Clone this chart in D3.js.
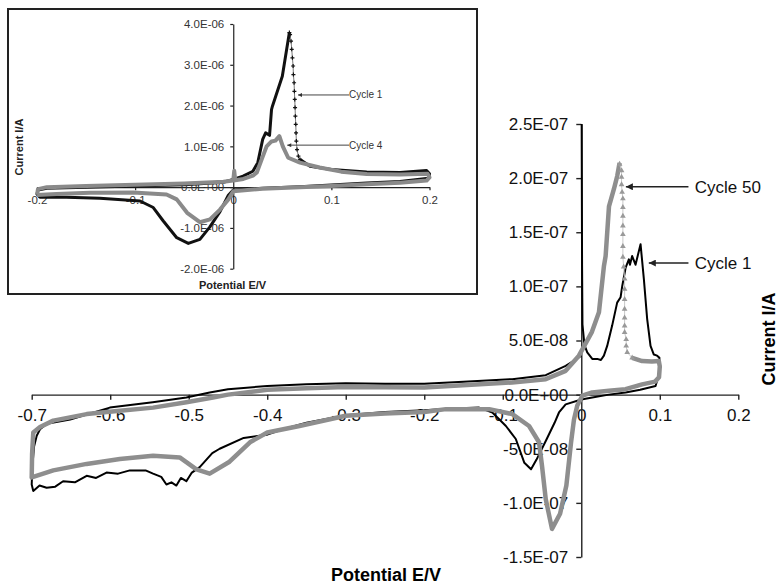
<!DOCTYPE html>
<html>
<head>
<meta charset="utf-8">
<script src="https://cdn.jsdelivr.net/npm/d3@7"></script>
<style>
  body { margin: 0; background: #fff; }
  svg { display: block; font-family: "Liberation Sans", Arial, sans-serif; }
</style>
</head>
<body>
<svg id="chart" width="780" height="586"></svg>
<script>
// ---- main plot: potential E (V) vs current I (A) ----
const mainXTicks = [-0.7, -0.6, -0.5, -0.4, -0.3, -0.2, -0.1, 0, 0.1, 0.2];
const mainYTicks = [-1.5e-7, -1e-7, -5e-8, 0, 5e-8, 1e-7, 1.5e-7, 2e-7, 2.5e-7];

// cycle 1 (black)
const cycle1 = [
  [0.0005, 2.5e-7], [0.001, 1.2e-7], [0.0015, 6.5e-8], [0.004, 4.6e-8], [0.0076, 3.9e-8],
  [0.014, 3.3e-8], [0.0203, 3.3e-8], [0.025, 3.2e-8], [0.0288, 3.6e-8], [0.033, 4.5e-8],
  [0.0394, 6.4e-8], [0.0457, 8.5e-8], [0.0501, 9.0e-8], [0.0521, 1.0e-7], [0.0564, 1.17e-7],
  [0.0606, 1.25e-7], [0.062, 1.2e-7], [0.0648, 1.28e-7], [0.0691, 1.2e-7], [0.0755, 1.39e-7],
  [0.0797, 1.07e-7], [0.0839, 7.0e-8], [0.0882, 4.5e-8], [0.0924, 3.7e-8], [0.0966, 3.6e-8],
  [0.0995, 3.4e-8], [0.0995, 2.2e-8], [0.097, 1.4e-8], [0.0946, 0.8e-8], [0.075, 0.45e-8],
  [0.0564, 0.2e-8], [0.035, 0], [0.014, -0.26e-8], [0, -0.45e-8], [-0.0199, -0.9e-8],
  [-0.0284, -1.65e-8], [-0.034, -2.6e-8], [-0.044, -4.1e-8], [-0.057, -6.0e-8], [-0.064, -6.9e-8],
  [-0.0725, -6.3e-8], [-0.0834, -4.1e-8], [-0.096, -2.9e-8], [-0.1132, -1.65e-8], [-0.1301, -1.2e-8],
  [-0.17, -1.3e-8], [-0.2, -1.45e-8], [-0.25, -1.6e-8], [-0.3, -1.9e-8], [-0.35, -2.6e-8],
  [-0.38, -3.2e-8], [-0.4, -3.7e-8], [-0.43, -4.0e-8], [-0.4606, -5.0e-8], [-0.47, -5.4e-8],
  [-0.486, -6.7e-8], [-0.496, -7.2e-8], [-0.503, -8.0e-8], [-0.51, -7.7e-8], [-0.5157, -8.4e-8],
  [-0.522, -8.1e-8], [-0.5284, -8.3e-8], [-0.535, -7.6e-8], [-0.5454, -7.3e-8], [-0.555, -7.0e-8],
  [-0.575, -7.0e-8], [-0.59, -7.3e-8], [-0.6047, -7.2e-8], [-0.618, -7.7e-8], [-0.63, -7.5e-8],
  [-0.645, -8.1e-8], [-0.66, -8.0e-8], [-0.67, -8.5e-8], [-0.681, -8.6e-8], [-0.69, -8.4e-8],
  [-0.698, -8.9e-8], [-0.7, -8.3e-8], [-0.699, -6.5e-8], [-0.697, -4.8e-8], [-0.6936, -3.8e-8],
  [-0.6894, -3.2e-8], [-0.681, -2.7e-8], [-0.651, -2.3e-8], [-0.6005, -1.2e-8], [-0.5458, -0.7e-8],
  [-0.503, -0.26e-8], [-0.4733, 0.2e-8], [-0.45, 0.5e-8], [-0.4, 0.8e-8], [-0.35, 0.95e-8],
  [-0.3, 1.05e-8], [-0.25, 1.0e-8], [-0.2, 1.0e-8], [-0.15, 1.2e-8], [-0.088, 1.43e-8],
  [-0.0453, 1.8e-8], [-0.0199, 2.66e-8], [-0.008, 3.2e-8], [0, 3.6e-8]
];

// cycle 50 (grey triangles) - dense part of the loop
const cycle50Loop = [
  [0.0648, 3.4e-8], [0.0775, 3.1e-8], [0.09, 3.05e-8], [0.0988, 3.1e-8], [0.1, 2.6e-8],
  [0.099, 1.6e-8], [0.094, 1.2e-8], [0.0775, 0.95e-8], [0.0564, 0.5e-8], [0.0352, 0.35e-8],
  [0.014, 0.2e-8], [0.0013, -0.1e-8], [-0.0051, -1.0e-8], [-0.0093, -2.3e-8], [-0.013, -4.4e-8],
  [-0.019, -8.4e-8], [-0.027, -1.1e-7], [-0.0373, -1.24e-7], [-0.0453, -9.65e-8], [-0.05, -6.6e-8],
  [-0.0538, -4.4e-8], [-0.0665, -2.9e-8], [-0.0878, -1.8e-8], [-0.1173, -1.34e-8], [-0.1724, -1.34e-8],
  [-0.2, -1.6e-8], [-0.25, -1.75e-8], [-0.3, -1.95e-8], [-0.359, -2.9e-8], [-0.4, -3.5e-8],
  [-0.422, -4.4e-8], [-0.448, -6.2e-8], [-0.4733, -7.3e-8], [-0.4902, -6.9e-8], [-0.5115, -5.8e-8],
  [-0.5454, -5.65e-8], [-0.5877, -5.95e-8], [-0.63, -6.4e-8], [-0.6725, -7.0e-8], [-0.7, -7.65e-8],
  [-0.6995, -5.5e-8], [-0.698, -3.5e-8], [-0.6894, -3.0e-8], [-0.6725, -2.4e-8], [-0.63, -1.8e-8],
  [-0.5877, -1.5e-8], [-0.5454, -1.2e-8], [-0.503, -0.7e-8], [-0.4691, -0.26e-8], [-0.45, 0],
  [-0.4, 0.45e-8], [-0.35, 0.6e-8], [-0.3, 0.7e-8], [-0.2, 0.66e-8], [-0.088, 1.13e-8],
  [-0.0453, 1.43e-8], [-0.0199, 2.2e-8], [-0.003, 3.6e-8], [0.0136, 5.8e-8], [0.0225, 7.6e-8],
  [0.0289, 1.19e-7], [0.031, 1.28e-7], [0.0353, 1.74e-7], [0.0416, 1.9e-7], [0.0458, 2.02e-7],
  [0.0488, 2.14e-7]
];
// cycle 50 - sparse falling edge after the anodic peak
const cycle50Drop = [
  [0.0488, 2.13e-7], [0.0513, 2.07e-7], [0.0513, 2.01e-7], [0.0513, 1.94e-7], [0.052, 1.87e-7],
  [0.053, 1.81e-7], [0.053, 1.73e-7], [0.053, 1.65e-7], [0.053, 1.56e-7], [0.053, 1.48e-7],
  [0.053, 1.37e-7], [0.053, 1.27e-7], [0.054, 1.18e-7], [0.0552, 1.07e-7], [0.0552, 9.75e-8],
  [0.0552, 8.8e-8], [0.0552, 7.9e-8], [0.0552, 7.1e-8], [0.0552, 6.35e-8], [0.0552, 5.75e-8],
  [0.0572, 5.1e-8], [0.0572, 4.5e-8], [0.0585, 3.9e-8], [0.0648, 3.4e-8]
];

// ---- inset plot ----
const insetXTicks = [-0.2, -0.1, 0, 0.1, 0.2];
const insetYTicks = [-2e-6, -1e-6, 0, 1e-6, 2e-6, 3e-6, 4e-6];

const insetCycle1Loop = [
  [0.0681, 0.68e-6], [0.0783, 0.51e-6], [0.1, 0.43e-6], [0.136, 0.37e-6], [0.17, 0.36e-6],
  [0.197, 0.41e-6], [0.2, 0.33e-6], [0.199, 0.22e-6], [0.17, 0.14e-6], [0.136, 0.1e-6],
  [0.1, 0.05e-6], [0.068, 0.01e-6], [0.03, -0.03e-6], [0, -0.07e-6], [-0.005, -0.2e-6],
  [-0.0135, -0.6e-6], [-0.024, -0.98e-6], [-0.034, -1.28e-6], [-0.0458, -1.38e-6], [-0.0576, -1.24e-6],
  [-0.0713, -0.83e-6], [-0.0815, -0.5e-6], [-0.095, -0.34e-6], [-0.136, -0.27e-6], [-0.17, -0.25e-6],
  [-0.197, -0.25e-6], [-0.2, -0.17e-6], [-0.199, -0.07e-6], [-0.19, -0.03e-6], [-0.15, 0.0],
  [-0.1, 0.03e-6], [-0.05, 0.06e-6], [-0.01, 0.12e-6], [0, 0.19e-6], [0.01, 0.27e-6],
  [0.02, 0.39e-6], [0.025, 0.6e-6], [0.03, 1.17e-6], [0.033, 1.33e-6], [0.037, 1.27e-6],
  [0.039, 1.9e-6], [0.04, 1.99e-6], [0.05, 2.72e-6], [0.0572, 3.79e-6]
];
const insetCycle1Drop = [
  [0.0572, 3.79e-6], [0.0579, 3.74e-6], [0.0589, 3.58e-6], [0.0596, 3.38e-6], [0.0603, 3.17e-6],
  [0.061, 2.97e-6], [0.0613, 2.76e-6], [0.062, 2.56e-6], [0.0623, 2.35e-6], [0.0627, 2.15e-6],
  [0.063, 1.95e-6], [0.0633, 1.74e-6], [0.0637, 1.54e-6], [0.064, 1.33e-6], [0.0643, 1.13e-6],
  [0.065, 0.92e-6], [0.0664, 0.76e-6], [0.0681, 0.68e-6]
];
const insetCycle4 = [
  [-0.2, -0.19e-6], [-0.199, -0.05e-6], [-0.19, 0.0], [-0.15, 0.03e-6], [-0.1, 0.06e-6],
  [-0.05, 0.09e-6], [-0.01, 0.13e-6], [0, 0.16e-6], [0.001, 0.4e-6], [0.002, 0.17e-6],
  [0.0103, 0.2e-6], [0.02, 0.28e-6], [0.024, 0.36e-6], [0.029, 0.68e-6], [0.034, 1.0e-6],
  [0.039, 1.12e-6], [0.043, 1.14e-6], [0.047, 1.25e-6], [0.0505, 1.0e-6], [0.056, 0.72e-6],
  [0.068, 0.6e-6], [0.088, 0.48e-6], [0.11, 0.38e-6], [0.136, 0.32e-6], [0.17, 0.31e-6],
  [0.198, 0.33e-6], [0.2, 0.24e-6], [0.197, 0.16e-6], [0.17, 0.11e-6], [0.136, 0.07e-6],
  [0.1, 0.03e-6], [0.068, 0.0], [0.03, -0.04e-6], [0, -0.1e-6], [-0.005, -0.3e-6],
  [-0.0135, -0.55e-6], [-0.0237, -0.79e-6], [-0.034, -0.86e-6], [-0.047, -0.63e-6], [-0.0576, -0.3e-6],
  [-0.068, -0.18e-6], [-0.102, -0.13e-6], [-0.146, -0.14e-6], [-0.18, -0.17e-6], [-0.2, -0.19e-6]
];

// annotation arrows: tip (E, I), tail E and label start E
const mainNotes = [
  { label: "Cycle 50", tipE: 0.0568, tipI: 1.92e-7, textE: 0.1446, tailE: 0.1365 },
  { label: "Cycle 1",  tipE: 0.086,  tipI: 1.215e-7, textE: 0.1446, tailE: 0.1365 }
];
const insetNotes = [
  { label: "Cycle 1", tipE: 0.066, tipI: 2.26e-6, textE: 0.118, tailE: 0.118 },
  { label: "Cycle 4", tipE: 0.055, tipI: 1.03e-6, textE: 0.118, tailE: 0.118 }
];

// "2.5E-07" style labels
function sci(v) {
  if (v === 0) return "0.0E+00";
  const e = Math.floor(Math.log10(Math.abs(v)) + 1e-9);
  const m = v / Math.pow(10, e);
  return m.toFixed(1) + "E" + (e < 0 ? "-" : "+") + String(Math.abs(e)).padStart(2, "0");
}
const plain = v => String(+v.toFixed(2));

const svg = d3.select("#chart");

// arrow heads (tip sits on the line end)
const defs = svg.append("defs");
defs.append("marker")
  .attr("id", "arrow-big")
  .attr("viewBox", "0 0 10 10")
  .attr("refX", 10).attr("refY", 5)
  .attr("markerWidth", 9).attr("markerHeight", 7)
  .attr("markerUnits", "userSpaceOnUse")
  .attr("orient", "auto")
  .append("path").attr("d", "M0,0L10,5L0,10Z").attr("fill", "#222");
defs.append("marker")
  .attr("id", "arrow-small")
  .attr("viewBox", "0 0 10 10")
  .attr("refX", 10).attr("refY", 5)
  .attr("markerWidth", 5).attr("markerHeight", 4)
  .attr("markerUnits", "userSpaceOnUse")
  .attr("orient", "auto")
  .append("path").attr("d", "M0,0L10,5L0,10Z").attr("fill", "#333");

// ================= main chart =================
const x = d3.scaleLinear().domain([-0.7, 0.2]).range([31.7, 738.3]);
const y = d3.scaleLinear().domain([-1.5e-7, 2.5e-7]).range([557, 124]);

const main = svg.append("g");

const xAxis = main.append("g")
  .attr("transform", `translate(0,${y(0)})`)
  .call(d3.axisBottom(x).tickValues(mainXTicks).tickFormat(plain).tickSize(5).tickSizeOuter(0).tickPadding(9));
const yAxis = main.append("g")
  .attr("transform", `translate(${x(0)},0)`)
  .call(d3.axisLeft(y).tickValues(mainYTicks).tickFormat(sci).tickSize(5).tickSizeOuter(0).tickPadding(8));

[xAxis, yAxis].forEach(a => {
  a.select(".domain").attr("stroke", "#222").attr("stroke-width", 1.4);
  a.selectAll(".tick line").attr("stroke", "#222").attr("stroke-width", 1.4);
  a.selectAll(".tick text")
    .style("font-family", "'Liberation Sans', Arial, sans-serif")
    .style("font-size", "17px")
    .attr("fill", "#111");
});

const line = d3.line().x(d => x(d[0])).y(d => y(d[1]));

main.append("path")
  .datum(cycle1)
  .attr("d", line)
  .attr("fill", "none")
  .attr("stroke", "#000")
  .attr("stroke-width", 2)
  .attr("stroke-linejoin", "round");

main.append("path")
  .datum(cycle50Loop)
  .attr("d", line)
  .attr("fill", "none")
  .attr("stroke", "#8e8e8e")
  .attr("stroke-width", 4.5)
  .attr("stroke-linejoin", "round");

main.append("path")
  .datum(cycle50Drop)
  .attr("d", line)
  .attr("fill", "none")
  .attr("stroke", "#c8c8c8")
  .attr("stroke-width", 1);

main.append("g")
  .selectAll("path")
  .data(cycle50Drop)
  .join("path")
  .attr("transform", d => `translate(${x(d[0])},${y(d[1])})`)
  .attr("d", d3.symbol(d3.symbolTriangle, 14))
  .attr("fill", "#999");

const notes = main.append("g").selectAll("g").data(mainNotes).join("g");
notes.append("line")
  .attr("x1", d => x(d.tailE)).attr("x2", d => x(d.tipE))
  .attr("y1", d => y(d.tipI)).attr("y2", d => y(d.tipI))
  .attr("stroke", "#222").attr("stroke-width", 1.5)
  .attr("marker-end", "url(#arrow-big)");
notes.append("text")
  .attr("x", d => x(d.textE))
  .attr("y", d => y(d.tipI) + 6)
  .style("font-size", "17px")
  .attr("fill", "#111")
  .text(d => d.label);

main.append("text")
  .attr("x", 386).attr("y", 581)
  .attr("text-anchor", "middle")
  .style("font-size", "18px").style("font-weight", "bold")
  .text("Potential E/V");
main.append("text")
  .attr("transform", "translate(775,339) rotate(-90)")
  .attr("text-anchor", "middle")
  .style("font-size", "18px").style("font-weight", "bold")
  .text("Current I/A");

// ================= inset =================
const inset = svg.append("g");
inset.append("rect")
  .attr("x", 8).attr("y", 9)
  .attr("width", 469).attr("height", 285)
  .attr("fill", "#fff")
  .attr("stroke", "#222").attr("stroke-width", 2);

const ix = d3.scaleLinear().domain([-0.2, 0.2]).range([37, 429.5]);
const iy = d3.scaleLinear().domain([-2e-6, 4e-6]).range([268.7, 24]);

const ixAxis = inset.append("g")
  .attr("transform", `translate(0,${iy(0)})`)
  .call(d3.axisBottom(ix).tickValues(insetXTicks).tickFormat(plain).tickSize(3).tickSizeOuter(0).tickPadding(6));
const iyAxis = inset.append("g")
  .attr("transform", `translate(${ix(0)},0)`)
  .call(d3.axisLeft(iy).tickValues(insetYTicks).tickFormat(sci).tickSize(3).tickSizeOuter(0).tickPadding(6));
[ixAxis, iyAxis].forEach(a => {
  a.select(".domain").attr("stroke", "#222").attr("stroke-width", 1.2);
  a.selectAll(".tick line").attr("stroke", "#222").attr("stroke-width", 1.2);
  a.selectAll(".tick text")
    .style("font-family", "'Liberation Sans', Arial, sans-serif")
    .style("font-size", "11.5px")
    .attr("fill", "#333");
});

const iline = d3.line().x(d => ix(d[0])).y(d => iy(d[1]));

inset.append("path")
  .datum(insetCycle1Loop)
  .attr("d", iline)
  .attr("fill", "none")
  .attr("stroke", "#111")
  .attr("stroke-width", 3)
  .attr("stroke-linejoin", "round");

inset.append("path")
  .datum(insetCycle1Drop)
  .attr("d", iline)
  .attr("fill", "none")
  .attr("stroke", "#555")
  .attr("stroke-width", 0.8);

inset.append("g")
  .selectAll("path")
  .data(insetCycle1Drop)
  .join("path")
  .attr("transform", d => `translate(${ix(d[0])},${iy(d[1])})`)
  .attr("d", "M-2,0H2M0,-2V2")
  .attr("stroke", "#111")
  .attr("stroke-width", 1.2);

inset.append("path")
  .datum(insetCycle4)
  .attr("d", iline)
  .attr("fill", "none")
  .attr("stroke", "#8a8a8a")
  .attr("stroke-width", 4)
  .attr("stroke-linejoin", "round");

const inotes = inset.append("g").selectAll("g").data(insetNotes).join("g");
inotes.append("line")
  .attr("x1", d => ix(d.tailE)).attr("x2", d => ix(d.tipE))
  .attr("y1", d => iy(d.tipI)).attr("y2", d => iy(d.tipI))
  .attr("stroke", "#444").attr("stroke-width", 1)
  .attr("marker-end", "url(#arrow-small)");
inotes.append("text")
  .attr("x", d => ix(d.textE))
  .attr("y", d => iy(d.tipI) + 3.5)
  .style("font-size", "10px")
  .attr("fill", "#333")
  .text(d => d.label);

inset.append("text")
  .attr("x", 232.5).attr("y", 289)
  .attr("text-anchor", "middle")
  .style("font-size", "11px").style("font-weight", "bold")
  .attr("fill", "#222")
  .text("Potential E/V");
inset.append("text")
  .attr("transform", "translate(22.5,147) rotate(-90)")
  .attr("text-anchor", "middle")
  .style("font-size", "11px").style("font-weight", "bold")
  .attr("fill", "#222")
  .text("Current I/A");
</script>
</body>
</html>
